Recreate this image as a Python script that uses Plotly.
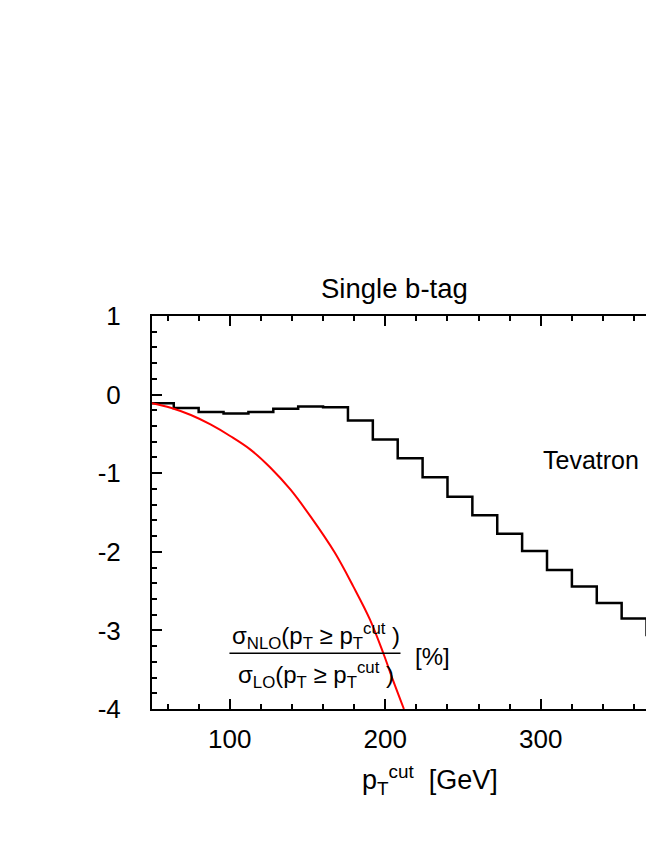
import plotly.graph_objects as go

# histogram: NLO/LO ratio in bins of pT cut (left edges + last right edge)
bin_edges = [48, 64, 80, 96, 112, 128, 144, 160, 176, 192, 208, 224,
             240, 256, 272, 288, 304, 320, 336, 352, 368, 384]
ratio_hist = [-0.11, -0.17, -0.22, -0.24, -0.22, -0.18, -0.15, -0.16,
              -0.33, -0.57, -0.81, -1.05, -1.30, -1.535, -1.77, -1.99,
              -2.23, -2.44, -2.65, -2.85, -3.06]

# red curve
curve_x = [50, 62, 75, 87.6, 100.5, 113.3, 126.2, 139.1, 151.9, 167.5,
           179.4, 190.1, 199.1, 204.9, 212]
curve_y = [-0.11, -0.167, -0.26, -0.38, -0.53, -0.70, -0.93, -1.21, -1.55,
           -2.01, -2.44, -2.86, -3.31, -3.63, -4.0]

y_ticks = [1, 0, -1, -2, -3, -4]
y_labels = ["1", "0", "-1", "-2", "-3", "-4"]

FONT = "Liberation Sans, Arial, sans-serif"

fig = go.Figure()

fig.add_trace(go.Scatter(
    x=bin_edges, y=ratio_hist + [ratio_hist[-1]],
    mode="lines", line=dict(color="black", width=2.5, shape="hv"),
    showlegend=False))

fig.add_trace(go.Scatter(
    x=curve_x, y=curve_y, mode="lines",
    line=dict(color="#ff0000", width=2, shape="spline"),
    showlegend=False))

axis_common = dict(
    showgrid=False, zeroline=False, showline=True, linecolor="black",
    linewidth=2, ticks="inside", tickcolor="black", tickwidth=1.5,
    ticklen=10, automargin=False,
    tickfont=dict(size=26, color="black", family=FONT))

fig.update_xaxes(range=[50, 372.8], tick0=0, dtick=100, mirror="ticks",
                 ticklabelstandoff=6,
                 minor=dict(dtick=20, ticks="inside", ticklen=5,
                            tickcolor="black", tickwidth=1.5),
                 **axis_common)
fig.update_yaxes(range=[-4, 1], tickvals=y_ticks, ticktext=y_labels,
                 mirror=False, ticklabelstandoff=24,
                 minor=dict(dtick=0.2, ticks="inside", ticklen=5,
                            tickcolor="black", tickwidth=1.5),
                 **axis_common)

annotations = [
    dict(text="Single b-tag", x=0.484, y=1.071, xref="paper", yref="paper",
         xanchor="center", yanchor="middle", showarrow=False,
         font=dict(size=27.5)),
    dict(text="p<sub>T</sub><sup>cut</sup>  [GeV]", x=0.553, y=-0.18,
         xref="paper", yref="paper", xanchor="center", yanchor="middle",
         showarrow=False, font=dict(size=27)),
    dict(text="Tevatron", x=332.6, y=-0.83, showarrow=False,
         font=dict(size=25)),
    dict(text="σ<sub>NLO</sub>(p<sub>T</sub> ≥ p<sub>T</sub><sup>cut</sup> )",
         x=155.5, y=-3.07, showarrow=False, font=dict(size=24)),
    dict(text="σ<sub>LO</sub>(p<sub>T</sub> ≥ p<sub>T</sub><sup>cut</sup> )",
         x=155.5, y=-3.57, showarrow=False, font=dict(size=24)),
    dict(text="[%]", x=230.5, y=-3.33, showarrow=False, font=dict(size=24)),
]

# page body adds an 8px offset, so margins are reduced by that amount
fig.update_layout(
    width=646, height=830,
    margin=dict(l=144, r=0, t=308, b=129),
    plot_bgcolor="white", paper_bgcolor="white",
    font=dict(family=FONT, color="black"),
    annotations=annotations,
    shapes=[dict(type="line", x0=99.8, x1=209.8, y0=-3.29, y1=-3.29,
                 line=dict(color="black", width=1.5))],
)

fig.write_html("out.html")
